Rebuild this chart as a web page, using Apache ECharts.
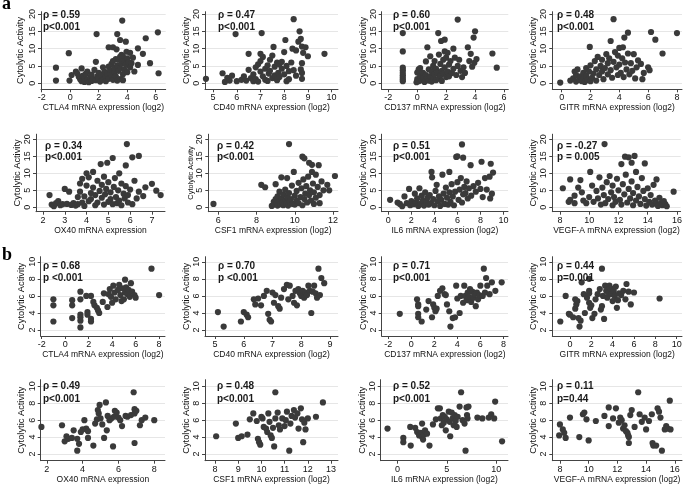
<!DOCTYPE html>
<html><head><meta charset="utf-8">
<script src="https://cdn.jsdelivr.net/npm/echarts@6/dist/echarts.min.js"></script>
<style>html,body{margin:0;padding:0;background:#fff}#c{width:685px;height:485px}</style>
</head><body><div id="c"></div><script>
// ---------------- DATA ----------------
const xTitles = [
 "CTLA4 mRNA expression (log2)","CD40 mRNA expression (log2)","CD137 mRNA expression (log2)","GITR mRNA expression (log2)",
 "OX40 mRNA expression","CSF1 mRNA expression (log2)","IL6 mRNA expression (log2)","VEGF-A mRNA expression (log2)",
 "CTLA4 mRNA expression (log2)","CD40 mRNA expression (log2)","CD137 mRNA expression (log2)","GITR mRNA expression (log2)",
 "OX40 mRNA expression","CSF1 mRNA expression (log2)","IL6 mRNA expression (log2)","VEGF-A mRNA expression (log2)"];
const yTitle = "Cytolytic Activity";
const rhoLabels = ["ρ = 0.59","ρ = 0.47","ρ = 0.60","ρ = 0.48","ρ = 0.34","ρ = 0.42","ρ = 0.51","ρ = -0.27",
 "ρ = 0.68","ρ = 0.70","ρ = 0.71","ρ = 0.44","ρ = 0.49","ρ = 0.48","ρ = 0.52","ρ = 0.11"];
const pLabels = ["p<0.001","p<0.001","p<0.001","p<0.001","p<0.001","p<0.001","p<0.001","p = 0.005",
 "p <0.001","p <0.001","p<0.001","p=0.001","p<0.001","p<0.001","p<0.001","p=0.44"];
const panelLetters = ["a","b"];
const xTicks = [[-2,0,2,4,6],[5,6,7,8,9,10],[-2,0,2,4,6],[0,2,4,6,8],
 [2,3,4,5,6,7],[6,8,10,12],[0,2,4,6,8,10],[8,10,12,14,16],
 [-2,0,2,4,6,8],[5,6,7,8,9],[-2,0,2,4,6,8],[0,2,4,6,8,10],
 [2,4,6,8],[8,9,10,11,12,13],[0,5,10],[8,10,12,14,16]];
const xRanges = [[-2.05,6.7],[4.66,10.27],[-2.46,6.3],[-0.65,8.35],
 [1.68,7.6],[5.48,12.26],[-0.58,10.4],[7.48,16.25],
 [-2.08,8.5],[4.65,9.28],[-2.57,8.4],[-1.65,10.5],
 [1.66,8.6],[7.57,13.3],[-1.69,11.2],[7.47,16.5]];
const yTicksA = [0,5,10,15,20];
const yTicksB = [2,4,6,8,10];
const yRangesByRow = [[-1.73,20.66],[-1.3,21.5],[1.3,10.6],[1.21,10.78]];

const ctla4A = [[-1,4.5],[-1,0.8],[-0.1,8.7],[-0.05,0.8],[0.1,2.4],[0.4,3.4],[0.5,2.8],[0.6,1.9],[0.7,1.2],[0.8,4.3],[0.8,0.6],[0.9,2.2],[1.0,1.5],[1.0,0.4],[1.1,2.8],[1.2,3.4],[1.2,1.0],[1.3,0.3],[1.4,1.8],[1.5,2.5],[1.5,0.7],[1.6,1.2],[1.7,3.9],[1.8,6.2],[1.8,0.9],[1.85,14.2],[1.9,2.0],[2.0,1.4],[2.0,3.0],[2.1,0.5],[2.2,2.4],[2.3,4.6],[2.3,1.1],[2.4,3.4],[2.5,1.9],[2.5,0.6],[2.6,2.9],[2.7,10.4],[2.7,4.8],[2.7,1.3],[2.8,3.8],[2.9,2.2],[2.9,5.6],[3.0,10.4],[3.0,1.0],[3.0,6.4],[3.1,3.1],[3.1,4.4],[3.2,7.0],[3.2,2.0],[3.25,9.8],[3.3,14.2],[3.3,5.2],[3.3,0.8],[3.4,6.8],[3.4,3.6],[3.5,12.5],[3.5,7.6],[3.5,4.4],[3.5,1.2],[3.6,5.8],[3.6,8.2],[3.65,18.1],[3.7,7.7],[3.7,2.6],[3.7,0.9],[3.8,6.4],[3.8,4.0],[3.9,12.0],[3.9,5.4],[3.95,9.1],[4.0,3.2],[4.0,7.2],[4.1,6.0],[4.2,8.8],[4.2,4.6],[4.3,5.8],[4.4,7.4],[4.5,3.4],[4.75,10.1],[4.75,5.3],[5.1,8.5],[5.3,13.0],[5.6,5.8],[6.15,14.7],[6.2,2.9]];
const cd40A = [[4.7,1.3],[5.4,2.9],[5.5,0.4],[5.6,1.6],[5.7,0.8],[5.8,2.2],[5.95,14.2],[6.0,0.6],[6.2,1.0],[6.3,2.0],[6.4,0.8],[6.5,8.5],[6.5,3.9],[6.6,1.5],[6.7,0.6],[6.7,2.6],[6.8,4.6],[6.8,1.2],[6.9,5.5],[6.9,0.5],[7.0,8.5],[7.0,3.4],[7.0,6.4],[7.05,14.5],[7.1,2.0],[7.1,7.6],[7.2,1.0],[7.2,4.2],[7.3,5.2],[7.3,0.7],[7.35,2.8],[7.4,6.8],[7.4,3.6],[7.5,1.5],[7.5,8.0],[7.55,10.5],[7.6,4.8],[7.6,2.3],[7.7,6.0],[7.7,0.9],[7.75,3.0],[7.8,5.4],[7.8,1.8],[7.9,4.2],[7.9,6.2],[8.0,2.6],[8.0,9.0],[8.05,12.5],[8.1,5.0],[8.1,0.6],[8.2,3.5],[8.2,1.2],[8.3,6.0],[8.35,10.0],[8.4,18.5],[8.4,3.8],[8.5,2.2],[8.5,9.5],[8.6,12.0],[8.65,15.0],[8.7,12.8],[8.7,4.0],[8.75,10.6],[8.75,5.8],[8.75,3.0],[8.75,1.3],[8.8,8.8],[8.9,10.4],[9.0,7.8],[9.7,8.5]];
const cd137A = [[-1,14.5],[-1,9.2],[-1,4.5],[-1,3.8],[-1,3.0],[-1,2.3],[-1,1.7],[-1,1.1],[-1,0.6],[-0.05,0.3],[0.0,3.1],[0.0,1.2],[0.1,4.0],[0.1,0.6],[0.2,2.0],[0.2,4.4],[0.3,0.9],[0.4,1.5],[0.4,3.0],[0.5,0.4],[0.6,6.3],[0.6,2.4],[0.7,10.4],[0.7,1.2],[0.8,4.0],[0.8,0.8],[0.9,2.0],[0.9,7.8],[1.0,3.4],[1.0,0.5],[1.1,5.0],[1.1,1.6],[1.2,2.6],[1.2,6.4],[1.3,0.9],[1.3,4.2],[1.4,3.0],[1.45,14.5],[1.5,1.4],[1.5,8.3],[1.6,5.6],[1.6,2.2],[1.65,12.2],[1.7,0.7],[1.7,3.6],[1.8,6.8],[1.8,2.8],[1.9,12.6],[1.9,9.2],[1.9,4.6],[2.0,1.8],[2.0,7.4],[2.1,3.4],[2.1,8.8],[2.2,2.0],[2.2,5.4],[2.3,6.4],[2.4,3.0],[2.5,10.0],[2.5,4.2],[2.6,7.4],[2.7,2.4],[2.8,18.4],[2.8,5.0],[2.9,6.8],[3.0,3.6],[3.1,1.8],[3.2,4.6],[3.3,3.0],[3.5,10.4],[3.6,6.4],[3.7,8.5],[3.8,4.8],[3.9,13.2],[3.95,5.9],[4.0,15.0],[4.1,7.0],[5.2,8.6],[5.5,4.5]];
const gitrA = [[-0.1,0.2],[0.6,0.8],[0.8,1.4],[0.9,3.4],[1.0,0.5],[1.0,2.4],[1.1,4.0],[1.2,1.0],[1.3,2.0],[1.4,0.6],[1.5,3.0],[1.5,1.3],[1.6,0.4],[1.7,2.2],[1.7,4.4],[1.8,1.0],[1.9,3.4],[1.95,10.5],[2.0,0.6],[2.0,5.2],[2.1,1.6],[2.2,2.8],[2.3,6.4],[2.4,0.8],[2.4,4.0],[2.5,7.6],[2.6,2.4],[2.7,5.0],[2.8,3.4],[2.8,6.8],[2.9,1.2],[3.0,4.4],[3.1,8.4],[3.2,2.6],[3.2,5.8],[3.3,7.2],[3.4,12.2],[3.4,3.8],[3.5,1.6],[3.6,18.5],[3.6,6.2],[3.7,9.0],[3.8,4.6],[3.9,2.4],[3.9,8.0],[4.0,10.2],[4.0,5.4],[4.1,3.0],[4.2,7.2],[4.25,10.4],[4.3,1.8],[4.35,13.2],[4.4,6.0],[4.5,4.0],[4.6,14.6],[4.6,8.6],[4.7,2.6],[4.8,5.8],[4.9,3.6],[5.0,8.4],[5.1,1.4],[5.2,4.6],[5.3,6.6],[5.5,5.6],[5.6,1.2],[5.7,3.0],[6.0,4.6],[6.1,3.8],[6.2,14.8],[6.5,12.6],[7.0,8.6],[8.0,14.5]];
const ox40A = [[2.3,3.6],[2.4,0.8],[2.5,0.3],[2.6,1.2],[2.7,1.8],[2.8,0.6],[2.9,0.9],[3.0,5.4],[3.1,1.0],[3.2,4.6],[3.3,0.7],[3.4,1.2],[3.5,0.5],[3.6,3.0],[3.6,0.9],[3.7,4.6],[3.7,7.0],[3.8,1.4],[3.8,8.4],[3.9,3.2],[3.9,0.4],[4.0,10.0],[4.0,6.4],[4.1,1.8],[4.1,8.8],[4.2,4.2],[4.2,2.4],[4.3,10.4],[4.3,5.8],[4.4,0.6],[4.4,3.6],[4.5,7.8],[4.5,1.4],[4.6,4.8],[4.65,12.7],[4.7,2.8],[4.7,6.6],[4.8,0.8],[4.8,9.0],[4.85,3.8],[4.9,5.4],[4.95,13.1],[5.0,1.6],[5.0,7.4],[5.1,2.4],[5.1,4.4],[5.2,0.9],[5.2,14.5],[5.25,6.0],[5.3,8.6],[5.35,3.0],[5.4,1.2],[5.45,5.0],[5.5,2.0],[5.5,10.0],[5.6,7.0],[5.6,0.6],[5.7,4.0],[5.75,2.6],[5.8,12.3],[5.8,6.2],[5.85,18.6],[5.9,1.4],[5.9,3.6],[6.0,5.2],[6.1,14.7],[6.1,0.9],[6.2,7.8],[6.3,2.6],[6.4,15.1],[6.4,4.6],[6.6,3.3],[6.7,5.9],[7.0,6.9],[7.2,4.9],[7.4,3.6]];
const csf1A = [[5.75,1.0],[8.25,6.6],[8.45,5.9],[8.8,0.4],[8.9,1.6],[8.9,0.8],[9.0,2.4],[9.0,6.8],[9.05,1.2],[9.1,0.5],[9.1,3.2],[9.2,1.8],[9.2,4.6],[9.25,0.9],[9.3,2.6],[9.3,8.8],[9.35,1.4],[9.4,3.8],[9.4,0.6],[9.5,2.0],[9.5,5.2],[9.55,1.0],[9.6,3.0],[9.6,8.6],[9.65,0.5],[9.7,18.6],[9.7,4.2],[9.75,1.6],[9.8,2.4],[9.85,6.4],[9.9,1.0],[9.95,10.4],[10.0,3.4],[10.0,0.8],[10.1,4.8],[10.1,2.0],[10.2,1.2],[10.2,7.2],[10.3,3.0],[10.35,5.6],[10.4,14.9],[10.4,0.6],[10.45,8.2],[10.5,14.4],[10.5,2.4],[10.55,4.0],[10.6,6.2],[10.65,1.4],[10.7,9.0],[10.75,13.1],[10.75,3.6],[10.8,5.0],[10.85,2.0],[10.9,12.5],[10.9,10.4],[10.95,7.0],[11.0,1.0],[11.0,4.4],[11.1,9.6],[11.1,2.8],[11.2,6.0],[11.25,12.4],[11.3,1.2],[11.3,3.6],[11.4,7.6],[11.5,5.0],[11.7,6.6],[11.8,5.0],[12.1,9.2]];
const il6A = [[0.15,2.2],[0.8,1.4],[1.0,1.0],[1.2,0.3],[1.4,3.2],[1.6,1.2],[1.8,5.4],[1.9,0.6],[2.0,1.8],[2.2,0.9],[2.3,4.0],[2.4,1.4],[2.5,2.6],[2.6,0.4],[2.7,5.6],[2.8,1.0],[2.9,3.4],[3.0,2.0],[3.1,0.5],[3.2,4.4],[3.3,1.6],[3.4,2.8],[3.5,0.8],[3.6,3.6],[3.7,1.2],[3.75,10.4],[3.8,8.8],[3.9,2.4],[4.0,0.6],[4.1,4.8],[4.2,6.6],[4.3,1.8],[4.4,3.2],[4.5,0.4],[4.6,2.2],[4.7,9.6],[4.8,4.0],[4.9,1.0],[5.0,5.8],[5.1,2.8],[5.2,0.8],[5.3,10.4],[5.3,4.4],[5.4,1.6],[5.5,6.8],[5.6,3.2],[5.7,0.6],[5.8,4.6],[5.9,14.8],[6.0,15.0],[6.0,7.4],[6.1,2.2],[6.2,5.2],[6.3,8.6],[6.4,18.5],[6.4,1.4],[6.5,14.6],[6.5,3.8],[6.6,6.0],[6.7,4.2],[6.8,7.6],[6.9,2.6],[7.0,5.6],[7.15,12.4],[7.2,3.4],[7.4,6.2],[7.6,4.6],[7.8,7.2],[8.0,5.4],[8.1,13.4],[8.2,3.0],[8.4,8.6],[8.55,5.2],[8.8,9.0],[8.85,2.6],[8.9,12.8],[9.0,4.0],[9.1,10.2]];
const vegfA = [[8.2,5.6],[8.6,1.6],[8.7,2.2],[8.7,8.2],[9.0,3.4],[9.0,1.2],[9.25,5.8],[9.4,8.0],[9.5,4.4],[9.6,2.0],[9.8,1.2],[10.0,3.0],[10.07,10.4],[10.2,6.4],[10.3,1.6],[10.5,4.8],[10.6,2.6],[10.7,8.8],[10.8,0.8],[10.9,5.8],[11.0,3.6],[11.05,18.6],[11.1,1.2],[11.2,7.4],[11.3,2.4],[11.4,9.2],[11.5,4.4],[11.6,0.6],[11.6,6.4],[11.7,3.0],[11.8,1.6],[11.9,8.4],[12.0,5.0],[12.1,2.2],[12.2,12.7],[12.2,0.8],[12.3,6.8],[12.4,3.8],[12.45,14.9],[12.5,9.6],[12.6,1.4],[12.7,14.7],[12.7,5.4],[12.8,2.6],[12.9,13.1],[12.9,7.6],[13.0,0.6],[13.0,4.2],[13.1,15.1],[13.2,10.4],[13.2,2.0],[13.3,6.0],[13.4,3.2],[13.5,1.0],[13.6,8.6],[13.7,4.8],[13.8,12.9],[13.8,2.4],[13.9,0.5],[14.0,5.6],[14.1,1.6],[14.2,3.6],[14.3,0.8],[14.4,6.6],[14.5,2.0],[14.6,8.2],[14.6,1.0],[14.7,0.4],[14.8,2.8],[14.9,1.2],[15.0,0.6],[15.1,1.8],[15.2,0.9],[15.3,0.3],[15.77,4.6]];
const ctla4B = [[-1,5.6],[-1,4.9],[-1,3.0],[0.6,5.5],[0.6,4.9],[0.6,3.4],[1.3,6.5],[1.3,5.6],[1.3,3.8],[1.3,3.5],[1.3,3.1],[1.3,2.3],[1.8,6.0],[1.9,4.1],[1.9,3.8],[2.2,6.0],[2.2,3.3],[2.2,3.0],[2.4,5.3],[2.5,4.9],[2.7,4.6],[2.8,4.3],[2.9,4.0],[3.2,5.3],[3.3,6.3],[3.6,4.7],[3.7,6.2],[3.8,6.8],[3.9,5.9],[4.0,5.2],[4.1,7.2],[4.2,6.4],[4.3,5.6],[4.5,6.7],[4.6,7.3],[4.7,6.1],[4.8,5.4],[4.9,6.9],[5.0,5.6],[5.1,7.9],[5.1,6.4],[5.2,7.0],[5.3,6.2],[5.4,6.7],[5.5,5.9],[5.6,7.5],[5.7,6.5],[5.9,6.1],[6.0,5.8],[7.35,9.2],[8.0,6.1]];
const cd40B = [[5.1,4.1],[5.3,2.4],[5.9,3.0],[6.0,4.1],[6.1,3.8],[6.15,3.5],[6.35,5.6],[6.4,5.0],[6.5,5.7],[6.6,4.9],[6.7,6.0],[6.8,6.6],[6.85,3.9],[6.9,3.2],[6.95,3.0],[7.0,6.4],[7.05,5.2],[7.1,6.1],[7.2,4.8],[7.25,4.5],[7.3,5.8],[7.4,6.8],[7.5,7.3],[7.55,5.6],[7.6,7.2],[7.7,6.0],[7.75,5.2],[7.8,6.6],[7.85,4.9],[7.9,6.8],[7.95,6.3],[8.0,6.0],[8.05,6.6],[8.1,5.8],[8.15,6.4],[8.2,6.1],[8.25,7.2],[8.3,6.6],[8.35,4.0],[8.4,6.5],[8.45,7.2],[8.5,6.3],[8.55,5.8],[8.6,9.2],[8.65,6.1],[8.7,8.1],[8.8,7.5]];
const cd137B = [[-1.0,3.9],[0.5,5.6],[0.6,5.0],[0.6,4.8],[0.6,3.9],[0.6,3.5],[0.9,3.0],[1.3,4.4],[1.5,5.4],[1.8,3.5],[1.9,5.0],[2.0,4.6],[2.1,4.2],[2.2,4.5],[2.3,6.0],[2.5,6.6],[2.7,6.9],[2.9,6.2],[3.0,6.1],[3.1,5.0],[3.3,4.2],[3.4,2.4],[3.6,3.4],[3.8,3.5],[3.9,7.2],[4.0,5.7],[4.2,4.0],[4.3,6.0],[4.5,5.2],[4.6,7.2],[4.7,6.0],[4.8,5.5],[4.9,6.4],[5.0,5.9],[5.1,6.8],[5.2,5.3],[5.3,6.5],[5.4,5.8],[5.5,6.2],[5.6,4.8],[5.7,6.4],[5.8,5.6],[5.9,6.1],[6.0,7.2],[6.2,6.0],[6.3,9.2],[6.4,6.4],[6.5,8.1],[6.6,7.2],[6.8,6.2],[7.0,7.6],[7.3,6.6],[7.85,7.6]];
const gitrB = [[-0.9,3.0],[-0.4,6.0],[-0.1,3.9],[0.0,3.8],[0.3,3.5],[0.5,4.5],[0.5,5.6],[0.6,5.0],[0.7,5.4],[0.8,3.4],[0.9,2.4],[1.0,3.1],[1.1,7.6],[1.3,6.2],[1.4,4.0],[1.6,5.8],[1.8,8.0],[1.8,6.6],[1.8,6.3],[1.8,5.2],[1.9,4.6],[2.0,4.9],[2.1,3.4],[2.3,3.9],[2.4,5.6],[2.6,6.2],[2.8,6.8],[2.9,4.4],[3.0,4.8],[3.1,6.0],[3.2,3.3],[3.3,7.2],[3.4,6.6],[3.5,5.8],[3.6,6.4],[3.7,7.2],[3.8,6.9],[3.9,6.2],[3.0,9.2],[4.0,5.4],[4.1,6.6],[4.2,6.0],[4.3,7.1],[4.4,4.6],[4.5,5.5],[4.6,6.3],[4.8,6.1],[5.0,6.6],[5.2,5.6],[5.3,7.4],[5.5,6.5],[5.7,5.0],[6.0,6.4],[8.4,5.7]];
const ox40B = [[1.7,5.2],[2.85,5.4],[3.0,3.5],[3.1,4.1],[3.2,3.8],[3.4,3.9],[3.5,4.8],[3.7,3.8],[3.7,2.4],[3.8,3.2],[3.9,4.6],[4.0,4.9],[4.1,6.0],[4.2,5.0],[4.3,4.7],[4.3,3.9],[4.6,3.0],[4.7,5.6],[4.8,6.1],[4.85,7.2],[4.9,6.8],[4.95,7.8],[5.0,6.2],[5.1,5.5],[5.2,3.9],[5.3,8.1],[5.35,4.8],[5.4,6.5],[5.5,6.0],[5.6,6.2],[5.7,2.9],[5.75,6.4],[5.8,7.1],[5.9,6.9],[6.0,6.3],[6.1,6.0],[6.2,5.3],[6.4,6.5],[6.5,6.4],[6.7,6.6],[6.85,9.3],[6.9,7.3],[6.9,6.8],[6.9,3.3],[7.0,7.1],[7.2,5.4],[7.3,6.0],[7.5,6.3],[8.0,6.0]];
const csf1B = [[8.05,4.1],[8.9,5.6],[9.0,3.9],[9.15,4.1],[9.4,4.3],[9.5,6.1],[9.65,6.8],[9.8,5.9],[9.85,3.8],[9.9,3.4],[9.95,3.1],[10.0,6.4],[10.05,6.2],[10.1,5.2],[10.2,5.0],[10.25,4.6],[10.3,6.8],[10.35,5.8],[10.4,4.2],[10.45,3.9],[10.5,5.1],[10.55,2.9],[10.6,9.3],[10.6,6.2],[10.7,6.9],[10.75,5.4],[10.8,4.9],[10.9,6.2],[11.0,5.3],[11.05,6.0],[11.1,7.0],[11.2,2.4],[11.25,5.6],[11.3,6.5],[11.4,7.2],[11.45,6.3],[11.55,6.8],[11.6,5.0],[11.7,7.4],[11.75,6.1],[11.8,3.4],[11.85,5.7],[11.9,4.9],[12.0,6.2],[12.35,6.4],[12.65,8.1]];
const il6B = [[-1.0,5.0],[0.6,3.9],[0.6,3.4],[1.3,5.2],[1.35,3.0],[1.8,5.1],[2.0,4.6],[2.2,4.2],[2.4,4.5],[2.5,4.0],[2.5,5.6],[2.6,3.7],[2.7,4.3],[2.8,4.8],[3.0,4.4],[3.25,3.0],[3.6,5.5],[3.9,6.1],[4.1,7.4],[4.3,7.4],[4.4,6.2],[4.5,5.4],[4.6,6.6],[4.7,5.7],[4.8,6.4],[4.9,4.8],[5.0,6.1],[5.2,7.0],[5.3,5.8],[5.35,4.1],[5.5,6.9],[5.6,6.2],[5.7,5.4],[5.8,6.6],[5.9,5.9],[6.0,5.2],[6.1,6.4],[6.3,7.6],[6.45,9.3],[6.6,6.0],[6.8,5.6],[6.9,2.4],[7.0,7.5],[7.05,6.6],[7.1,6.2],[7.2,7.6],[8.1,6.3],[8.6,6.2],[9.25,6.3],[9.5,6.7],[9.8,6.2],[9.9,8.2],[10.6,3.5]];
const vegfB = [[7.95,4.2],[8.0,5.5],[8.2,4.9],[8.3,4.5],[8.4,3.9],[8.7,6.3],[9.35,4.0],[9.6,6.7],[9.7,6.9],[9.85,6.1],[10.0,3.6],[10.5,5.9],[11.1,6.5],[11.4,5.3],[11.4,7.5],[11.7,6.2],[11.9,7.4],[12.1,5.7],[12.2,6.3],[12.3,6.0],[12.4,5.0],[12.5,5.4],[12.6,4.7],[12.7,4.5],[12.75,4.2],[12.8,4.0],[12.8,3.3],[12.9,6.6],[13.0,7.2],[13.2,5.2],[13.45,9.3],[13.55,6.7],[13.7,5.8],[13.9,6.3],[14.0,4.9],[14.2,5.9],[14.4,6.7],[14.45,3.3],[14.5,3.0],[14.7,3.0],[14.8,7.4],[14.9,7.0],[15.0,6.3],[15.1,2.4],[15.3,4.9],[15.4,5.3],[15.5,5.0],[15.65,8.3],[15.7,4.9]];

const panelData = [ctla4A,cd40A,cd137A,gitrA,ox40A,csf1A,il6A,vegfA,ctla4B,cd40B,cd137B,gitrB,ox40B,csf1B,il6B,vegfB];

// ---------------- LAYOUT (pixels) ----------------
const rowEdges = [[11.7,89.3],[134.2,211.7],[256.7,336],[379.7,460.7]];
const colEdges = [
 [[41,165.7],[205,338],[381.7,508.3],[552.3,682]],
 [[36,165],[208.3,338],[381.7,508],[552.3,682]],
 [[40.7,165],[205,338],[381.7,508],[552.3,682]],
 [[40.7,165],[205,338],[380.7,508],[552.3,682]]];
const rhoX = [43,218,393,557, 45,217,393,557, 43,218,393,557, 43,217,393,557];
const rhoY = [15,146,266.7,386.3];
const pY = [27,157.3,278.3,399];
const yNameGap = [16,11,13,13, 14,7,13,13, 15,11,13,13, 15,11,13,13];
const letterPos = [[2,4],[2,255]];

const F = '"Liberation Sans", Arial, sans-serif';
const AX = '#444';
const GRIDC = '#e6e6e6';
const DOT = '#3a3a3a';

const grids=[], xAxes=[], yAxes=[], series=[], graphics=[];
for (let i=0;i<16;i++){
  const r=Math.floor(i/4), c=i%4;
  const [L,R]=colEdges[r][c];
  const [T,B]=rowEdges[r];
  const yT = r<2 ? yTicksA : yTicksB;
  const yR = yRangesByRow[r];
  grids.push({left:L, top:T, width:R-L, height:B-T});
  xAxes.push({type:'value', gridIndex:i, min:xRanges[i][0], max:xRanges[i][1],
    name:xTitles[i], nameLocation:'middle', nameGap:14,
    nameTextStyle:{fontSize:8.5, color:'#111', fontFamily:F},
    axisLine:{show:true,onZero:false,lineStyle:{color:AX,width:1}},
    axisTick:{show:true,length:3,customValues:xTicks[i],lineStyle:{color:AX}},
    axisLabel:{customValues:xTicks[i],fontSize:9,margin:4,color:'#111',fontFamily:F},
    splitLine:{show:false}});
  yAxes.push({type:'value', gridIndex:i, min:yR[0], max:yR[1],
    name:yTitle, nameLocation:'middle', nameGap:yNameGap[i], nameRotate:90,
    nameTextStyle:{fontSize:(i===5?7.4:9.3), color:'#111', fontFamily:F},
    axisLine:{show:true,onZero:false,lineStyle:{color:AX,width:1}},
    axisTick:{show:true,length:3,customValues:yT,lineStyle:{color:AX}},
    axisLabel:{customValues:yT,rotate:90,fontSize:9,margin:4,color:'#111',fontFamily:F},
    splitLine:{show:true,lineStyle:{color:GRIDC,width:1}}});
  series.push({type:'scatter', xAxisIndex:i, yAxisIndex:i, data:panelData[i],
    symbolSize:6.2, itemStyle:{color:DOT, opacity:1}, silent:true});
  graphics.push({type:'text', z:100, x:rhoX[i], y:rhoY[r], style:{text:rhoLabels[i], font:'bold 10px '+F, fill:'#1a1a1a', verticalAlign:'middle'}});
  graphics.push({type:'text', z:100, x:rhoX[i], y:pY[r], style:{text:pLabels[i], font:'bold 10px '+F, fill:'#1a1a1a', verticalAlign:'middle'}});
}
panelLetters.forEach((t,k)=>{
  graphics.push({type:'text', z:100, x:letterPos[k][0], y:letterPos[k][1], style:{text:t, font:'bold 18px "Liberation Serif", "Times New Roman", serif', fill:'#000', verticalAlign:'middle'}});
});

const chart = echarts.init(document.getElementById('c'), null, {renderer:'canvas'});
chart.setOption({animation:false, backgroundColor:'#fff', grid:grids, xAxis:xAxes, yAxis:yAxes, series:series, graphic:graphics});
</script></body></html>
